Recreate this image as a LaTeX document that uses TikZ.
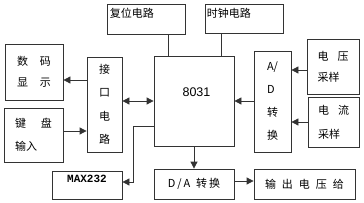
\documentclass[tikz,border=0pt]{standalone}
\usepackage{fontspec}
\setmainfont{Noto Sans CJK SC}
\newfontfamily\chipfont{Liberation Mono}
\newfontfamily\digitfont{Liberation Sans}
\usetikzlibrary{arrows.meta, positioning, calc}

\begin{document}
\begin{tikzpicture}[x=1pt, y=-1pt,
    box/.style={draw=black!80, line width=0.8pt, inner sep=0pt, align=center, font=\fontsize{11}{21}\selectfont},
    tag/.style={inner sep=0pt, font=\fontsize{11}{13}\selectfont},
    arr/.style={draw=black!80, line width=0.8pt, -{Triangle[length=7pt,width=7pt]}},
    dbl/.style={draw=black!80, line width=0.8pt, {Triangle[length=7pt,width=7pt]}-{Triangle[length=7pt,width=7pt]}}]
  \useasboundingbox (0,0) rectangle (364,203);

  \node[box, minimum width=78pt, minimum height=30pt,
    label={[tag, anchor=north west, xshift=3pt, yshift=-4pt]north west:复位电路}] (reset) at (146,19) {};
  \node[box, minimum width=78pt, minimum height=29pt,
    label={[tag, anchor=north west, xshift=2pt, yshift=-4pt]north west:时钟电路}] (clock) at (244,18.5) {};
  \node[box, minimum width=80pt, minimum height=90pt,
    label={[tag, anchor=center, font=\digitfont\fontsize{12.5}{14}\selectfont, xshift=2.5pt, yshift=9pt]center:8031}] (cpu) at (194,101) {};
  \node[box, minimum width=35pt, minimum height=95pt, font=\fontsize{11}{23.5}\selectfont] (iface) at (104.5,104.5) {接\\口\\电\\路};
  \node[box, minimum width=58pt, minimum height=56pt, align=left] (disp) at (34,72) {数\hspace{12pt}码\\显\hspace{12pt}示};
  \node[box, minimum width=59pt, minimum height=54pt, align=left, font=\fontsize{11}{23}\selectfont] (kbd) at (33.5,135) {键\hspace{15pt}盘\\输入};
  \node[box, minimum width=70pt, minimum height=28pt, text height=8pt, text depth=13pt,
    font=\chipfont\bfseries\fontsize{11}{12}\selectfont] (max) at (87,185) {MAX232};
  \node[box, minimum width=80pt, minimum height=30pt] (da) at (194,184) {D\,/\,A\hspace{6pt}转\,换};
  \node[box, minimum width=101pt, minimum height=30pt] (out) at (304.5,184) {输\hspace{6pt}出\hspace{6pt}电\hspace{6pt}压\hspace{6pt}给};
  \node[box, minimum width=37pt, minimum height=101pt, align=left, font=\fontsize{11}{23}\selectfont] (ad) at (272.5,101.5) {A/\\D\\转\\换};
  \node[box, minimum width=52pt, minimum height=55pt, align=left] (volt) at (333,66.5) {电\hspace{9pt}压\\采样};
  \node[box, minimum width=51pt, minimum height=50pt, align=left, font=\fontsize{11}{24}\selectfont] (curr) at (333.5,122) {电\hspace{9pt}流\\采样};
  \coordinate (bend) at (133,182);

  \draw[draw=black!80, line width=0.8pt] ([xshift=22pt]reset.south) -- ([xshift=22pt]reset.south |- cpu.north);
  \draw[draw=black!80, line width=0.8pt] ([xshift=-23pt]clock.south) -- ([xshift=-23pt]clock.south |- cpu.north);
  \draw[arr] ([yshift=-8pt]disp.east -| iface.west) -- ([yshift=-8pt]disp.east);
  \draw[arr] ([yshift=4pt]kbd.east) -- ([yshift=4pt]kbd.east -| iface.west);
  \draw[dbl] (cpu.west -| iface.east) -- (cpu.west);
  \draw[arr] (cpu.east -| ad.west) -- (cpu.east);
  \draw[arr] ([yshift=-3.5pt]volt.west) -- ([yshift=-3.5pt]volt.west -| ad.east);
  \draw[arr] (curr.west) -- (curr.west -| ad.east);
  \draw[arr] ([yshift=-25pt]cpu.west) -| (bend) -- (bend -| max.east);
  \draw[arr] (cpu.south) -- (da.north);
  \draw[arr] ([yshift=3pt]da.east) -- ([yshift=3pt]da.east -| out.west);
\end{tikzpicture}
\end{document}
